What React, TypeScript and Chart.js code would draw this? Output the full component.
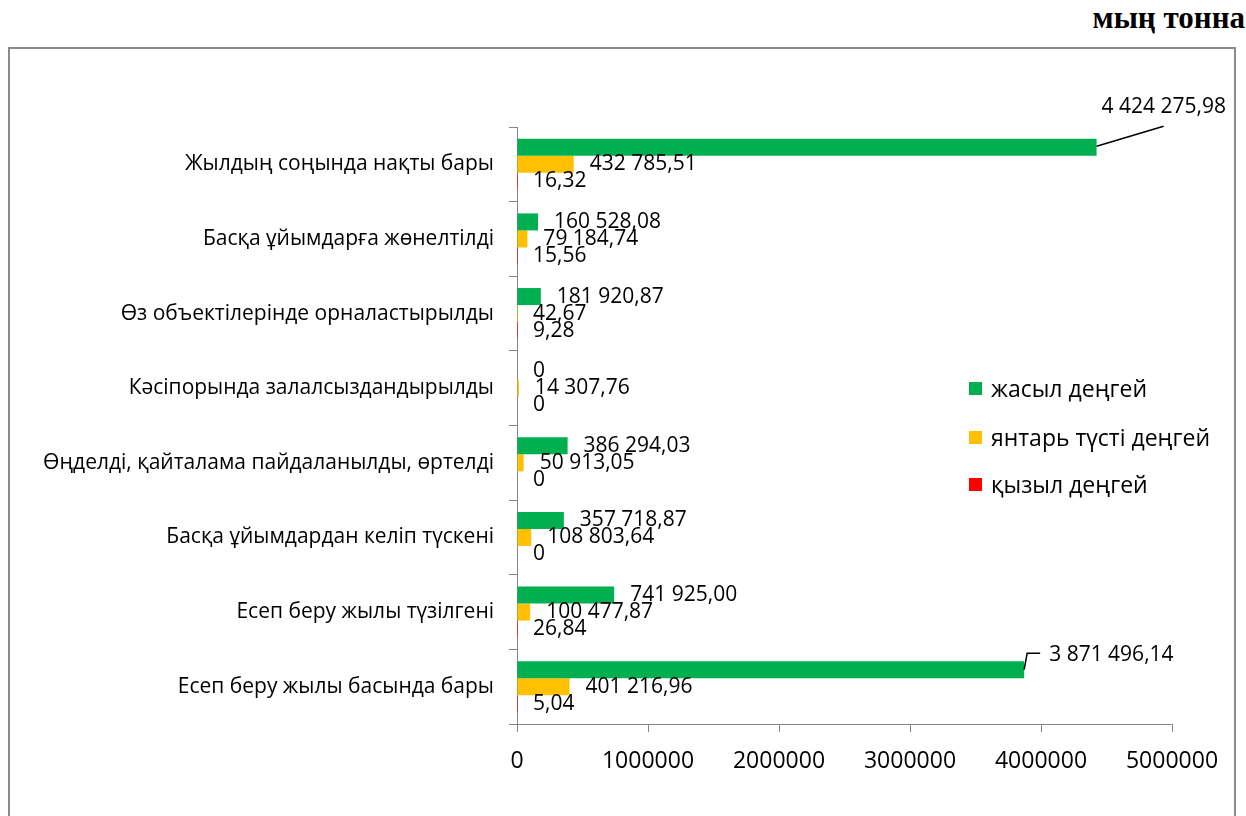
import React, { useEffect, useRef } from "react";
import { Chart, registerables } from "chart.js";

Chart.register(...registerables);

// ---------- data ----------
const CATEGORIES = [
  "Жылдың соңында нақты бары",
  "Басқа ұйымдарға жөнелтілді",
  "Өз объектілерінде орналастырылды",
  "Кәсіпорында залалсыздандырылды",
  "Өңделді, қайталама пайдаланылды, өртелді",
  "Басқа ұйымдардан келіп түскені",
  "Есеп беру жылы түзілгені",
  "Есеп беру жылы басында бары",
];
const GREEN_VALUES = [4424275.98, 160528.08, 181920.87, 0, 386294.03, 357718.87, 741925.0, 3871496.14];
const AMBER_VALUES = [432785.51, 79184.74, 42.67, 14307.76, 50913.05, 108803.64, 100477.87, 401216.96];
const RED_VALUES = [16.32, 15.56, 9.28, 0, 0, 0, 26.84, 5.04];
const SERIES_NAMES = ["жасыл деңгей", "янтарь түсті деңгей", "қызыл деңгей"];
const X_TICKS = [0, 1000000, 2000000, 3000000, 4000000, 5000000];
const UNIT_LABEL = "мың тонна";

// ---------- styles ----------
const FONT = "'Open Sans', sans-serif";
const COLORS = ["#00B050", "#FFC000", "#FF0000"];
const AXIS_COLOR = "#868686";

function fmt(v: number): string {
  if (v === 0) return "0";
  const [i, d] = v.toFixed(2).split(".");
  return i.replace(/\B(?=(\d{3})+(?!\d))/g, " ") + "," + d;
}

// moved labels with leader lines, keyed "categoryIndex-datasetIndex"; offsets relative to the bar end
const CALLOUTS: Record<string, { dx: number; dy: number; leader: [number, number][] }> = {
  "0-0": { dx: 5, dy: -40, leader: [[0, -1], [67, -21]] },
  "7-0": { dx: 25, dy: -14.5, leader: [[0, 0], [3, -16.5], [16, -16.5]] },
};

const valueLabels = {
  id: "valueLabels",
  afterDatasetsDraw(chart: any) {
    const ctx = chart.ctx;
    ctx.save();
    ctx.font = `21px ${FONT}`;
    ctx.fillStyle = "#000";
    ctx.textBaseline = "middle";
    ctx.textAlign = "left";
    chart.data.datasets.forEach((ds: any, di: number) => {
      const meta = chart.getDatasetMeta(di);
      meta.data.forEach((bar: any, i: number) => {
        const text = fmt(ds.data[i]);
        const c = CALLOUTS[`${i}-${di}`];
        if (c) {
          ctx.beginPath();
          ctx.strokeStyle = "#000";
          ctx.lineWidth = 1.5;
          c.leader.forEach(([lx, ly], k) => {
            if (k === 0) ctx.moveTo(bar.x + lx, bar.y + ly);
            else ctx.lineTo(bar.x + lx, bar.y + ly);
          });
          ctx.stroke();
          ctx.fillText(text, bar.x + c.dx, bar.y + c.dy);
        } else {
          ctx.fillText(text, bar.x + 16, bar.y);
        }
      });
    });
    ctx.restore();
  },
};

export default function App() {
  const ref = useRef<HTMLCanvasElement | null>(null);

  useEffect(() => {
    if (!ref.current) return;
    const series = [GREEN_VALUES, AMBER_VALUES, RED_VALUES];
    const chart = new Chart(ref.current, {
      type: "bar",
      data: {
        labels: CATEGORIES,
        datasets: series.map((vals, k) => ({
          label: SERIES_NAMES[k],
          data: vals,
          backgroundColor: COLORS[k],
          borderWidth: 0,
          categoryPercentage: 0.684,
          barPercentage: 1,
        })),
      },
      options: {
        indexAxis: "y",
        animation: false,
        responsive: false,
        maintainAspectRatio: false,
        layout: { padding: { top: 127, right: 74, left: 0, bottom: 0 } },
        plugins: { legend: { display: false }, tooltip: { enabled: false }, title: { display: false } },
        scales: {
          x: {
            type: "linear",
            position: "bottom",
            min: 0,
            max: 5000000,
            afterBuildTicks: (s: any) => {
              s.ticks = X_TICKS.map((v) => ({ value: v }));
            },
            afterFit: (s: any) => {
              s.height = 92;
            },
            ticks: {
              color: "#000",
              font: { family: FONT, size: 23 },
              padding: 16,
              maxRotation: 0,
              autoSkip: false,
              callback: (v: any) => String(v),
            },
            grid: { drawOnChartArea: false, tickLength: 8, color: AXIS_COLOR },
            border: { color: AXIS_COLOR, width: 1 },
          },
          y: {
            type: "category",
            afterFit: (s: any) => {
              s.width = 517;
            },
            ticks: { color: "#000", font: { family: FONT, size: 21 }, padding: 15, autoSkip: false },
            grid: { drawOnChartArea: false, tickLength: 8, color: AXIS_COLOR, offset: true },
            border: { color: AXIS_COLOR, width: 1 },
          },
        },
      },
      plugins: [valueLabels],
    } as any);
    return () => chart.destroy();
  }, []);

  const legendTops = [388, 437, 484];

  return (
    <div
      style={{
        position: "fixed",
        left: 0,
        top: 0,
        width: 1246,
        height: 816,
        overflow: "hidden",
        background: "#fff",
      }}
    >
      <div
        style={{
          position: "absolute",
          left: 8,
          top: 47,
          width: 1228,
          height: 1000,
          border: "2px solid #8a8a8a",
          boxSizing: "border-box",
        }}
      />
      <div
        style={{
          position: "absolute",
          right: 1,
          top: 4,
          font: "bold 31px 'Liberation Serif', serif",
          lineHeight: "28px",
          color: "#000",
          whiteSpace: "nowrap",
        }}
      >
        {UNIT_LABEL}
      </div>
      <canvas ref={ref} width={1246} height={816} style={{ position: "absolute", left: 0, top: 0, width: 1246, height: 816 }} />
      {SERIES_NAMES.map((name, k) => (
        <div
          key={name}
          style={{
            position: "absolute",
            left: 969,
            top: legendTops[k] - 15,
            height: 30,
            display: "flex",
            alignItems: "center",
            font: `23px ${FONT}`,
            color: "#000",
            whiteSpace: "nowrap",
          }}
        >
          <span style={{ display: "inline-block", width: 13, height: 13, background: COLORS[k], marginRight: 9 }} />
          {name}
        </div>
      ))}
    </div>
  );
}
